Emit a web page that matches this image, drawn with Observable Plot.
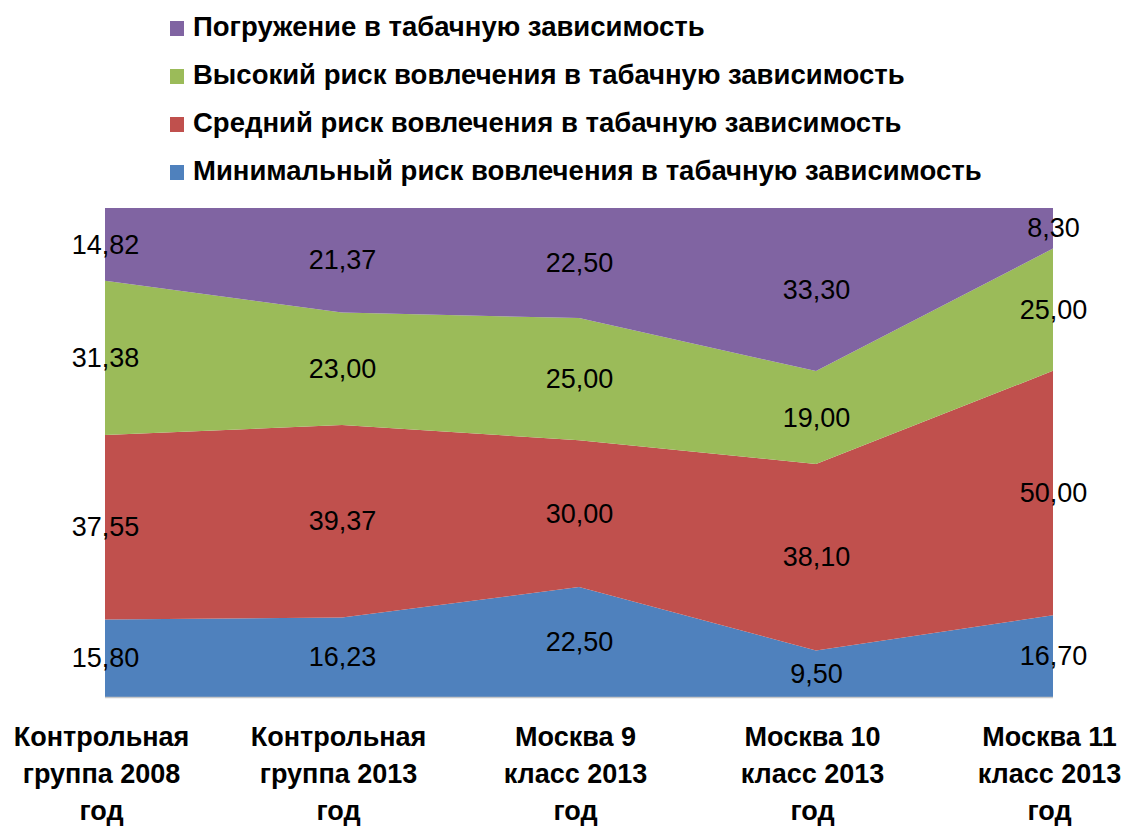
<!DOCTYPE html>
<html>
<head>
<meta charset="utf-8">
<script src="https://cdn.jsdelivr.net/npm/d3@7"></script>
<script src="https://cdn.jsdelivr.net/npm/@observablehq/plot@0.6"></script>
<style>
  html, body { margin: 0; padding: 0; background: #fff; }
  #wrap { width: 1130px; height: 828px; position: relative; overflow: hidden; }
  #legend { position: relative; height: 200px; width: 1130px; }
  .item { position: absolute; left: 170px; height: 48px; display: flex; align-items: center;
          font-family: "Liberation Sans", Arial, sans-serif; font-weight: bold; font-size: 27.5px; color: #000; white-space: nowrap; }
  .sw { width: 14px; height: 15px; margin-right: 9px; position: relative; top: 1px; }
  #chart svg { display: block; }
</style>
</head>
<body>
<div id="wrap">
  <div id="legend"></div>
  <div id="chart"></div>
</div>
<script>
const categories = [
  "Контрольная группа 2008 год",
  "Контрольная группа 2013 год",
  "Москва 9 класс 2013 год",
  "Москва 10 класс 2013 год",
  "Москва 11 класс 2013 год"
];
const tickLabels = [
  "Контрольная\nгруппа 2008\nгод",
  "Контрольная\nгруппа 2013\nгод",
  "Москва 9\nкласс 2013\nгод",
  "Москва 10\nкласс 2013\nгод",
  "Москва 11\nкласс 2013\nгод"
];
const seriesNames = [
  "Минимальный риск вовлечения в табачную зависимость",
  "Средний риск вовлечения в табачную зависимость",
  "Высокий риск вовлечения в табачную зависимость",
  "Погружение в табачную зависимость"
];
const seriesColors = ["#4F81BD", "#C0504D", "#9BBB59", "#8064A2"];
const minimalRisk = [15.80, 16.23, 22.50, 9.50, 16.70];
const mediumRisk  = [37.55, 39.37, 30.00, 38.10, 50.00];
const highRisk    = [31.38, 23.00, 25.00, 19.00, 25.00];
const immersion   = [14.82, 21.37, 22.50, 33.30, 8.30];

const seriesValues = [minimalRisk, mediumRisk, highRisk, immersion];
const rows = [];
seriesNames.forEach((s, si) => {
  categories.forEach((c, ci) => rows.push({series: s, cat: c, value: seriesValues[si][ci]}));
});

// Legend (top-down order: reversed series)
const legend = document.getElementById("legend");
[3, 2, 1, 0].forEach((si, i) => {
  const it = document.createElement("div");
  it.className = "item";
  it.style.top = (3 + i * 48) + "px";
  const sw = document.createElement("span");
  sw.className = "sw";
  sw.style.background = seriesColors[si];
  it.appendChild(sw);
  it.appendChild(document.createTextNode(seriesNames[si]));
  legend.appendChild(it);
});

const fmt = v => d3.format(".2f")(v).replace(".", ",");
const tickMap = new Map(categories.map((c, i) => [c, tickLabels[i]]));

const stackOpts = {order: seriesNames, offset: "normalize"};

const chart = Plot.plot({
  width: 1130,
  height: 628,
  marginTop: 8,
  marginBottom: 131,
  marginLeft: 105,
  marginRight: 77,
  style: {fontFamily: "Liberation Sans, Arial, sans-serif", background: "#fff"},
  x: {type: "point", domain: categories, padding: 0, label: null},
  y: {axis: null, label: null},
  color: {domain: seriesNames, range: seriesColors},
  marks: [
    Plot.areaY(rows, Plot.stackY(stackOpts, {x: "cat", y: "value", fill: "series", curve: "linear"})),
    Plot.ruleY([0], {stroke: "#c8c8c8", strokeWidth: 1.5}),
    Plot.text(rows, Plot.stackY(stackOpts, {
      x: "cat", y: "value", z: "series", text: d => fmt(d.value),
      fill: "#000", fontSize: 27
    })),
    Plot.axisX({
      tickSize: 0, tickPadding: 22, fontSize: 27, fontWeight: "bold", lineHeight: 1.37,
      tickFormat: c => tickMap.get(c), fill: "#000", dx: -4, label: null
    })
  ]
});
document.getElementById("chart").appendChild(chart);
</script>
</body>
</html>
